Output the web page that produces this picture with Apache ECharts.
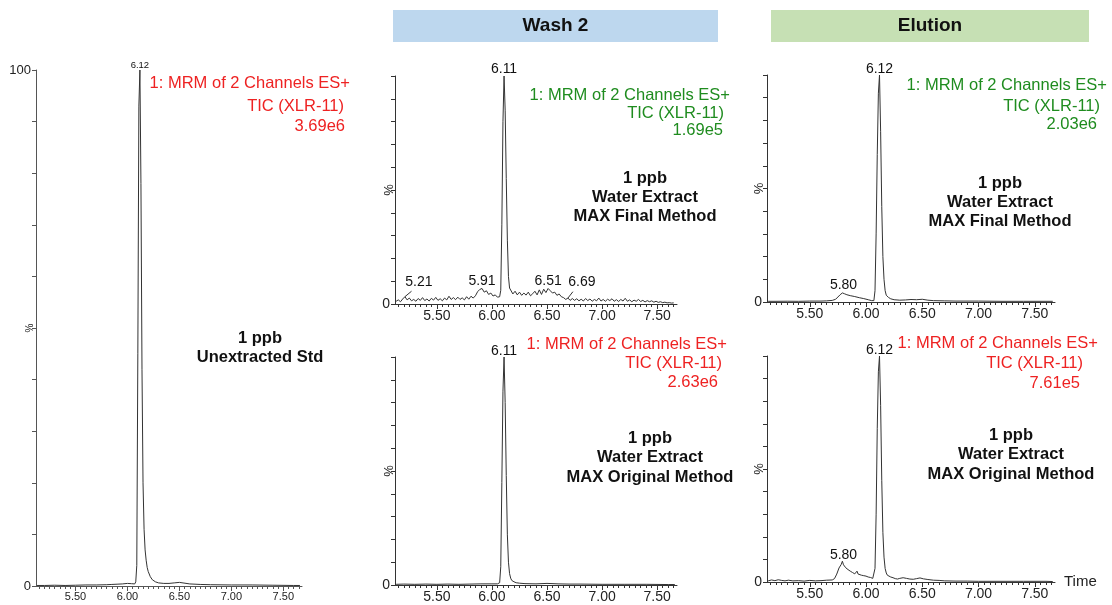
<!DOCTYPE html>
<html><head><meta charset="utf-8">
<script src="https://cdn.jsdelivr.net/npm/echarts@6/dist/echarts.min.js"></script>
<style>html,body{margin:0;padding:0;background:#fff;}#c{width:1112px;height:605px;}</style>
</head><body><div id="c"></div><script>
// ---------- data ----------
const X_MIN = 5.12, X_MAX = 7.68;
const xTickLabels = [5.5, 6.0, 6.5, 7.0, 7.5];
const yLabelsLeft = [0, 100];
const yLabelsOther = [0];

// [retention time (min), relative intensity (%)]
const unextractedStd = [[5.13,0.1],[5.2,0.1],[5.3,0.15],[5.4,0.1],[5.5,0.15],[5.6,0.2],[5.7,0.2],[5.8,0.25],[5.85,0.3],[5.9,0.35],[5.95,0.4],[6.0,0.5],[6.04,0.45],[6.07,0.4],[6.08,0.8],[6.09,4],[6.10,45],[6.11,93],[6.12,100],[6.13,78],[6.14,42],[6.15,20],[6.16,11],[6.17,7],[6.18,5],[6.19,3.6],[6.20,2.8],[6.22,1.8],[6.24,1.2],[6.27,0.8],[6.3,0.6],[6.35,0.5],[6.4,0.5],[6.45,0.6],[6.5,0.7],[6.6,0.4],[6.7,0.3],[6.8,0.25],[7.0,0.2],[7.2,0.2],[7.4,0.15],[7.6,0.1],[7.66,0.1]];

const wash2Final = [[5.13,1.2],[5.15,1.8],[5.17,1.0],[5.19,2.2],[5.21,3.2],[5.23,1.8],[5.25,2.6],[5.27,1.4],[5.29,2.0],[5.31,1.2],[5.33,2.4],[5.35,1.6],[5.37,2.8],[5.39,1.5],[5.41,2.2],[5.43,1.3],[5.45,2.5],[5.47,1.7],[5.49,2.9],[5.51,1.6],[5.53,2.3],[5.55,1.4],[5.57,2.6],[5.59,1.8],[5.61,3.4],[5.63,2.0],[5.65,2.8],[5.67,1.9],[5.69,3.0],[5.71,2.0],[5.73,2.7],[5.75,1.8],[5.77,3.2],[5.79,2.1],[5.81,3.4],[5.83,2.6],[5.85,3.6],[5.87,5.4],[5.89,6.4],[5.91,6.8],[5.93,5.2],[5.95,5.8],[5.97,4.2],[5.99,4.8],[6.01,3.5],[6.03,4.0],[6.05,3.0],[6.07,3.2],[6.08,6],[6.09,35],[6.10,80],[6.11,100],[6.12,85],[6.13,55],[6.14,28],[6.15,12],[6.16,7],[6.17,6.4],[6.19,4.4],[6.21,5.6],[6.23,4.0],[6.25,5.2],[6.27,3.8],[6.29,4.8],[6.31,3.9],[6.33,5.2],[6.35,3.6],[6.37,4.5],[6.39,5.6],[6.41,4.0],[6.43,6.2],[6.45,4.2],[6.47,6.5],[6.49,5.0],[6.51,6.8],[6.53,5.8],[6.55,4.8],[6.57,5.2],[6.59,3.8],[6.61,4.4],[6.63,3.2],[6.65,2.8],[6.67,2.0],[6.69,2.6],[6.71,1.6],[6.73,2.4],[6.75,1.6],[6.77,2.3],[6.79,1.4],[6.81,2.1],[6.83,1.3],[6.85,2.4],[6.87,1.5],[6.89,2.2],[6.91,1.2],[6.93,2.0],[6.95,1.4],[6.97,2.6],[6.99,1.3],[7.01,2.0],[7.03,1.2],[7.05,2.1],[7.07,1.5],[7.09,2.3],[7.11,1.2],[7.13,1.9],[7.15,1.1],[7.17,2.0],[7.19,1.3],[7.21,2.5],[7.23,1.2],[7.25,1.8],[7.27,1.0],[7.29,1.7],[7.31,1.2],[7.33,2.0],[7.35,1.1],[7.37,1.6],[7.39,0.9],[7.41,1.5],[7.43,1.0],[7.45,1.4],[7.47,0.8],[7.49,1.2],[7.51,0.7],[7.53,1.0],[7.55,0.6],[7.57,0.8],[7.59,0.5],[7.61,0.6],[7.63,0.4],[7.65,0.5]];

const wash2Original = [[5.13,0.3],[5.2,0.4],[5.3,0.3],[5.4,0.4],[5.5,0.3],[5.6,0.4],[5.7,0.3],[5.8,0.4],[5.9,0.5],[6.0,0.5],[6.05,0.5],[6.07,1],[6.08,8],[6.09,45],[6.10,85],[6.11,100],[6.12,80],[6.13,48],[6.14,22],[6.15,10],[6.16,5],[6.17,3],[6.18,2],[6.2,1.4],[6.22,1.0],[6.25,0.8],[6.3,0.6],[6.4,0.5],[6.5,0.7],[6.6,0.5],[6.7,0.4],[6.8,0.4],[7.0,0.3],[7.2,0.3],[7.4,0.3],[7.6,0.2],[7.66,0.2]];

const elutionFinal = [[5.13,0.3],[5.2,0.3],[5.3,0.35],[5.4,0.3],[5.5,0.4],[5.6,0.4],[5.65,0.5],[5.70,0.7],[5.73,1.2],[5.75,2.2],[5.77,3.2],[5.79,4.0],[5.81,3.6],[5.83,3.2],[5.86,2.8],[5.9,2.4],[5.94,1.9],[5.98,1.5],[6.02,1.0],[6.05,0.6],[6.07,0.6],[6.08,5],[6.09,30],[6.10,65],[6.11,92],[6.12,100],[6.13,75],[6.14,42],[6.15,20],[6.16,10],[6.17,5],[6.18,3],[6.20,2.0],[6.22,1.4],[6.25,1.0],[6.3,0.8],[6.35,0.9],[6.4,1.1],[6.45,1.0],[6.5,1.2],[6.55,0.8],[6.6,0.6],[6.7,0.5],[6.8,0.4],[7.0,0.4],[7.2,0.3],[7.4,0.3],[7.6,0.3],[7.66,0.3]];

const elutionOriginal = [[5.13,0.5],[5.16,0.9],[5.19,0.6],[5.22,1.0],[5.25,0.7],[5.28,0.5],[5.31,0.8],[5.35,0.5],[5.4,0.6],[5.45,0.4],[5.5,0.7],[5.55,0.5],[5.6,0.6],[5.65,0.8],[5.7,0.9],[5.72,1.5],[5.74,3.5],[5.76,6.2],[5.78,7.8],[5.79,9.2],[5.80,7.6],[5.81,8.4],[5.82,6.3],[5.83,7.1],[5.84,5.5],[5.85,6.2],[5.86,4.8],[5.87,5.3],[5.88,4.2],[5.89,4.6],[5.90,3.6],[5.91,4.4],[5.92,4.8],[5.93,3.5],[5.94,3.2],[5.96,3.0],[5.98,2.8],[6.00,2.6],[6.02,2.2],[6.04,2.0],[6.06,1.6],[6.07,1.8],[6.08,6],[6.09,30],[6.10,68],[6.11,93],[6.12,100],[6.13,78],[6.14,45],[6.15,22],[6.16,11],[6.17,6],[6.18,4],[6.19,3],[6.20,2.6],[6.22,2.2],[6.24,1.9],[6.26,1.5],[6.28,1.3],[6.30,1.6],[6.33,1.9],[6.36,1.6],[6.39,1.3],[6.42,1.2],[6.45,1.5],[6.48,1.8],[6.51,1.4],[6.55,1.1],[6.6,0.8],[6.65,0.7],[6.7,0.5],[6.8,0.4],[6.9,0.4],[7.0,0.3],[7.2,0.3],[7.4,0.3],[7.6,0.3],[7.66,0.2]];

const peaksA = [6.12];
const peaksB = [6.11, 5.91, 6.51, 5.21, 6.69];
const peaksC = [6.11];
const peaksD = [6.12, 5.80];
const peaksE = [6.12, 5.80];

const headerLabels = ['Wash 2', 'Elution'];
const traceTitle = ['1: MRM of 2 Channels ES+', 'TIC (XLR-11)'];
const intensities = ['3.69e6', '1.69e5', '2.63e6', '2.03e6', '7.61e5'];
const sampleLines = {
  A: ['1 ppb', 'Unextracted Std'],
  B: ['1 ppb', 'Water Extract', 'MAX Final Method'],
  C: ['1 ppb', 'Water Extract', 'MAX Original Method'],
  D: ['1 ppb', 'Water Extract', 'MAX Final Method'],
  E: ['1 ppb', 'Water Extract', 'MAX Original Method']
};

// ---------- layout / style ----------
const FONT = '"Liberation Sans", Arial, sans-serif';
const RED = '#ee2222', GREEN = '#1f8c1f';
const minorTicks = [];
for (let k = 103; k <= 153; k++) minorTicks.push(+(k * 0.05).toFixed(2));

const panels = [
  { data: unextractedStd, peaks: peaksA, small: true, yLabels: yLabelsLeft, nameGap: 1,
    grid: {left: 36, top: 70, width: 266, height: 516},
    peakOff: {'6.12': [0, -5]},
    color: RED, inten: intensities[0],
    info: [[350, 83], [344, 106], [345, 126]],
    sample: sampleLines.A, sampleXY: [260, 338, 19] },
  { data: wash2Final, peaks: peaksB, yLabels: yLabelsOther, nameGap: -1,
    grid: {left: 395, top: 76, width: 282, height: 228},
    peakOff: {'6.11': [0, -7], '5.91': [0, -7], '6.51': [0, -7], '5.21': [14, -15], '6.69': [14, -16]},
    leaders: [[5.21, 0.06, 2.4], [6.69, 0.045, 2.8]],
    color: GREEN, inten: intensities[1],
    info: [[730, 95], [724, 113], [723, 130]],
    sample: sampleLines.B, sampleXY: [645, 178, 19.3] },
  { data: wash2Original, peaks: peaksC, yLabels: yLabelsOther, nameGap: -1,
    grid: {left: 395, top: 357, width: 282, height: 228},
    peakOff: {'6.11': [0, -6]},
    color: RED, inten: intensities[2],
    info: [[727, 344], [722, 363], [718, 382]],
    sample: sampleLines.C, sampleXY: [650, 438, 19.8] },
  { data: elutionFinal, peaks: peaksD, yLabels: yLabelsOther, nameGap: 1,
    grid: {left: 767, top: 75, width: 288, height: 227},
    peakOff: {'6.12': [0, -6], '5.80': [0, -8]},
    color: GREEN, inten: intensities[3],
    info: [[1107, 85], [1100, 106], [1097, 124]],
    sample: sampleLines.D, sampleXY: [1000, 183, 19.2] },
  { data: elutionOriginal, peaks: peaksE, yLabels: yLabelsOther, nameGap: 1, timeName: true,
    grid: {left: 767, top: 356, width: 288, height: 226},
    peakOff: {'6.12': [0, -6], '5.80': [0, -10]},
    color: RED, inten: intensities[4],
    info: [[1098, 343], [1083, 363], [1080, 383]],
    sample: sampleLines.E, sampleXY: [1011, 435, 19.5] }
];

function valueAt(data, t) {
  let best = data[0];
  for (const p of data) if (Math.abs(p[0] - t) < Math.abs(best[0] - t)) best = p;
  return best[1];
}

const grids = [], xAxes = [], yAxes = [], series = [], graphics = [];
panels.forEach((p, i) => {
  const axisColor = p.small ? '#555' : '#333';
  const labFs = p.small ? 11 : 14;
  grids.push(Object.assign({containLabel: false, outerBoundsMode: 'none'}, p.grid));
  xAxes.push({
    gridIndex: i, type: 'value', min: X_MIN, max: X_MAX,
    axisLine: {lineStyle: {color: axisColor, width: 1}},
    axisTick: {customValues: xTickLabels, length: 5, lineStyle: {color: axisColor}},
    axisLabel: {customValues: xTickLabels, formatter: v => v.toFixed(2), fontSize: labFs,
                color: '#222', fontFamily: FONT, margin: 5},
    splitLine: {show: false},
    name: p.timeName ? 'Time' : '', nameLocation: 'end', nameGap: 9, nameMoveOverlap: false,
    nameTextStyle: {fontSize: 15, color: '#222', fontFamily: FONT}
  });
  xAxes.push({
    gridIndex: i, type: 'value', min: X_MIN, max: X_MAX, position: 'bottom',
    axisLine: {show: false},
    axisTick: {customValues: minorTicks, length: 3, lineStyle: {color: axisColor}},
    axisLabel: {show: false}, splitLine: {show: false}
  });
  yAxes.push({
    gridIndex: i, type: 'value', min: 0, max: 100, interval: 10,
    axisLine: {show: true, lineStyle: {color: axisColor, width: 1}},
    axisTick: {show: true, length: 4, lineStyle: {color: axisColor}},
    axisLabel: {customValues: p.yLabels, fontSize: p.small ? 13 : 14, color: '#222', fontFamily: FONT, margin: 5},
    splitLine: {show: false},
    name: '%', nameLocation: 'middle', nameGap: p.nameGap, nameRotate: 90, nameMoveOverlap: false,
    nameTextStyle: {fontSize: p.small ? 10 : 13, color: '#222', fontFamily: FONT}
  });
  const mpData = p.peaks.map(t => ({
    name: t.toFixed(2), coord: [t, valueAt(p.data, t)],
    label: {offset: p.peakOff[t.toFixed(2)] || [0, -7]}
  }));
  const mlData = (p.leaders || []).map(l => {
    const v = valueAt(p.data, l[0]);
    return [{coord: [l[0], v]}, {coord: [l[0] + l[1], v + l[2]]}];
  });
  series.push({
    type: 'line', xAxisIndex: 2 * i, yAxisIndex: i, data: p.data,
    showSymbol: false, symbol: 'none', smooth: false, animation: false,
    lineStyle: {color: '#333', width: 1}, silent: true,
    markPoint: {
      symbol: 'circle', symbolSize: 1, itemStyle: {color: 'rgba(0,0,0,0)'}, animation: false,
      label: {show: true, position: 'inside', formatter: '{b}', color: '#111',
              fontSize: p.small ? 9.5 : 14, fontFamily: FONT},
      data: mpData
    },
    markLine: mlData.length ? {
      symbol: ['none', 'none'], silent: true, animation: false,
      lineStyle: {color: '#333', width: 1, type: 'solid'}, label: {show: false},
      data: mlData
    } : undefined
  });
  const infoTexts = [traceTitle[0], traceTitle[1], p.inten];
  infoTexts.forEach((txt, k) => {
    graphics.push({type: 'text', x: p.info[k][0], y: p.info[k][1], silent: true,
      style: {text: txt, fill: p.color, font: '16.5px ' + FONT, textAlign: 'right', textVerticalAlign: 'middle'}});
  });
  p.sample.forEach((txt, k) => {
    graphics.push({type: 'text', x: p.sampleXY[0], y: p.sampleXY[1] + k * p.sampleXY[2], silent: true,
      style: {text: txt, fill: '#111', font: 'bold 16.5px ' + FONT, textAlign: 'center', textVerticalAlign: 'middle'}});
  });
});

const headers = [
  {x: 393, w: 325, fill: '#bdd7ee', text: headerLabels[0]},
  {x: 771, w: 318, fill: '#c6e0b4', text: headerLabels[1]}
];
headers.forEach(h => {
  graphics.push({type: 'rect', silent: true, shape: {x: h.x, y: 10, width: h.w, height: 32}, style: {fill: h.fill}});
  graphics.push({type: 'text', silent: true, x: h.x + h.w / 2, y: 26,
    style: {text: h.text, fill: '#111', font: 'bold 19px "Liberation Sans Narrow", "Liberation Sans", Arial, sans-serif',
            textAlign: 'center', textVerticalAlign: 'middle'}});
});

const chart = echarts.init(document.getElementById('c'), null, {renderer: 'canvas'});
chart.setOption({
  animation: false, backgroundColor: '#fff',
  grid: grids, xAxis: xAxes, yAxis: yAxes, series: series, graphic: graphics
});
</script></body></html>
